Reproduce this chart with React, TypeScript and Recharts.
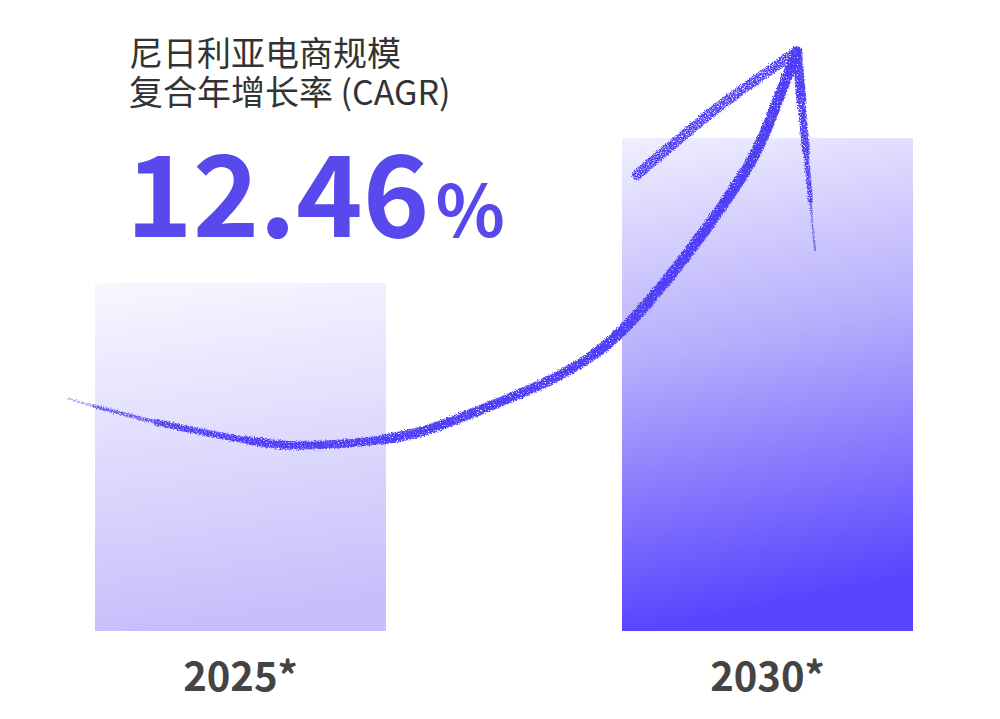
import React from "react";
import { ComposedChart, Bar, Cell, Line, XAxis, YAxis } from "recharts";

// ---- data ----
const categories = ["2025*", "2030*"];
const marketIndex = [70.6, 100]; // relative market size (2030 = 100)
const cagrValue = "12.46";
const titleLines = ["尼日利亚电商规模", "复合年增长率 (CAGR)"];

// hand-drawn growth arrow, x on a 0..1000 horizontal track, y in market-index units
const arrowX = [68, 160, 260, 310, 360, 420, 480, 540, 600, 650, 700, 750, 773, 797];
const arrowY = [47.1, 42.2, 38.3, 37.7, 38.3, 40.4, 44.8, 49.9, 57.0, 67.1, 79.9, 94.9, 105.1, 117.5];
const leftBarbX = [797, 720, 637];
const leftBarbY = [117.5, 106.5, 92.5];
const rightBarbX = [797, 806, 815];
const rightBarbY = [117.5, 97.5, 77.3];

const barData = categories.map((c, i) => ({ year: c, value: marketIndex[i] }));
const arrowData = arrowX.map((x, i) => ({ ax: x, ay: arrowY[i] }));
const leftBarbData = leftBarbX.map((x, i) => ({ ax: x, ay: leftBarbY[i] }));
const rightBarbData = rightBarbX.map((x, i) => ({ ax: x, ay: rightBarbY[i] }));

const ARROW = "#4D3DF7";
const FONT = "'Noto Sans CJK SC', 'Noto Sans', sans-serif";

// taper layers: [start%, width, opacity]
const shaftLayers: [number, number, number][] = [
  [0, 2, 0.5],
  [3, 4, 0.75],
  [10, 6.5, 1],
  [20, 8.5, 1],
  [35, 10, 1],
  [60, 11, 1],
];
const rightBarbLayers: [number, number, number][] = [
  [100, 2, 0.8],
  [75, 5, 1],
  [50, 8, 1],
  [25, 10, 1],
];

const Tick = (props: any) => {
  const { x, y, payload } = props;
  return (
    <text
      x={x}
      y={y + 30}
      textAnchor="middle"
      fontFamily={FONT}
      fontWeight={700}
      fontSize={40}
      fill="#444444"
    >
      {payload.value}
    </text>
  );
};

export default function App() {
  return (
    <div style={{ position: "absolute", left: 0, top: 0, width: 1000, height: 719, background: "#fff" }}>
      <style>{`.chalk-line .recharts-line-curve { filter: url(#chalk); }`}</style>
      <ComposedChart
        width={1000}
        height={719}
        data={barData}
        margin={{ top: 0, right: 0, bottom: 58, left: 0 }}
      >
        <defs>
          <linearGradient id="g2025" x1="0" y1="0" x2="0.12" y2="1">
            <stop offset="0%" stopColor="#F8F7FF" />
            <stop offset="100%" stopColor="#C7BFFB" />
          </linearGradient>
          <linearGradient id="g2030" x1="0" y1="0" x2="0.12" y2="1">
            <stop offset="0%" stopColor="#F1EFFF" />
            <stop offset="45%" stopColor="#B7AEFC" />
            <stop offset="100%" stopColor="#5843FE" />
          </linearGradient>
          <filter id="chalk" filterUnits="userSpaceOnUse" x="0" y="0" width="1000" height="719">
            <feTurbulence type="fractalNoise" baseFrequency="0.75" numOctaves="2" seed="7" result="noise" />
            <feDisplacementMap in="SourceGraphic" in2="noise" scale="4" xChannelSelector="R" yChannelSelector="G" result="rough" />
            <feColorMatrix
              in="noise"
              type="matrix"
              values="0 0 0 0 0  0 0 0 0 0  0 0 0 0 0  3.2 0 0 0 -0.75"
              result="grain"
            />
            <feComposite in="rough" in2="grain" operator="in" />
          </filter>
        </defs>

        <XAxis
          xAxisId="cat"
          dataKey="year"
          type="category"
          axisLine={false}
          tickLine={false}
          tickSize={0}
          tickMargin={0}
          padding={{ left: -23, right: -31 }}
          tick={<Tick />}
          interval={0}
        />
        <XAxis xAxisId="ax" type="number" dataKey="ax" domain={[0, 1000]} allowDataOverflow hide />
        <YAxis yAxisId="v" domain={[0, 128]} allowDataOverflow hide />

        <Bar dataKey="value" xAxisId="cat" yAxisId="v" barSize={291} isAnimationActive={false}>
          <Cell fill="url(#g2025)" />
          <Cell fill="url(#g2030)" />
        </Bar>

        {shaftLayers.map(([from, w, o], i) => (
          <Line
            key={"s" + i}
            className="chalk-line"
            data={arrowData}
            dataKey="ay"
            xAxisId="ax"
            yAxisId="v"
            type="natural"
            stroke={ARROW}
            strokeWidth={w}
            strokeOpacity={o}
            strokeLinecap="round"
            pathLength={100}
            strokeDasharray={`${100 - from} ${from + 100}`}
            strokeDashoffset={-from}
            dot={false}
            activeDot={false}
            isAnimationActive={false}
          />
        ))}
        <Line
          className="chalk-line"
          data={leftBarbData}
          dataKey="ay"
          xAxisId="ax"
          yAxisId="v"
          type="natural"
          stroke={ARROW}
          strokeWidth={10}
          strokeLinecap="round"
          dot={false}
          activeDot={false}
          isAnimationActive={false}
        />
        {rightBarbLayers.map(([len, w, o], i) => (
          <Line
            key={"r" + i}
            className="chalk-line"
            data={rightBarbData}
            dataKey="ay"
            xAxisId="ax"
            yAxisId="v"
            type="linear"
            stroke={ARROW}
            strokeWidth={w}
            strokeOpacity={o}
            strokeLinecap="round"
            pathLength={100}
            strokeDasharray={`${len} 200`}
            dot={false}
            activeDot={false}
            isAnimationActive={false}
          />
        ))}

        <text x={129} y={66} fontFamily={FONT} fontSize={34} fill="#333333">
          {titleLines[0]}
        </text>
        <text x={129} y={105} fontFamily={FONT} fontSize={34} fill="#333333">
          {titleLines[1]}
        </text>
        <text x={126} y={237} fontFamily={FONT} fontWeight={700} fill="#5849EC">
          <tspan fontSize={113}>{cagrValue}</tspan>
          <tspan fontSize={72} dx={6}>%</tspan>
        </text>
      </ComposedChart>
    </div>
  );
}
